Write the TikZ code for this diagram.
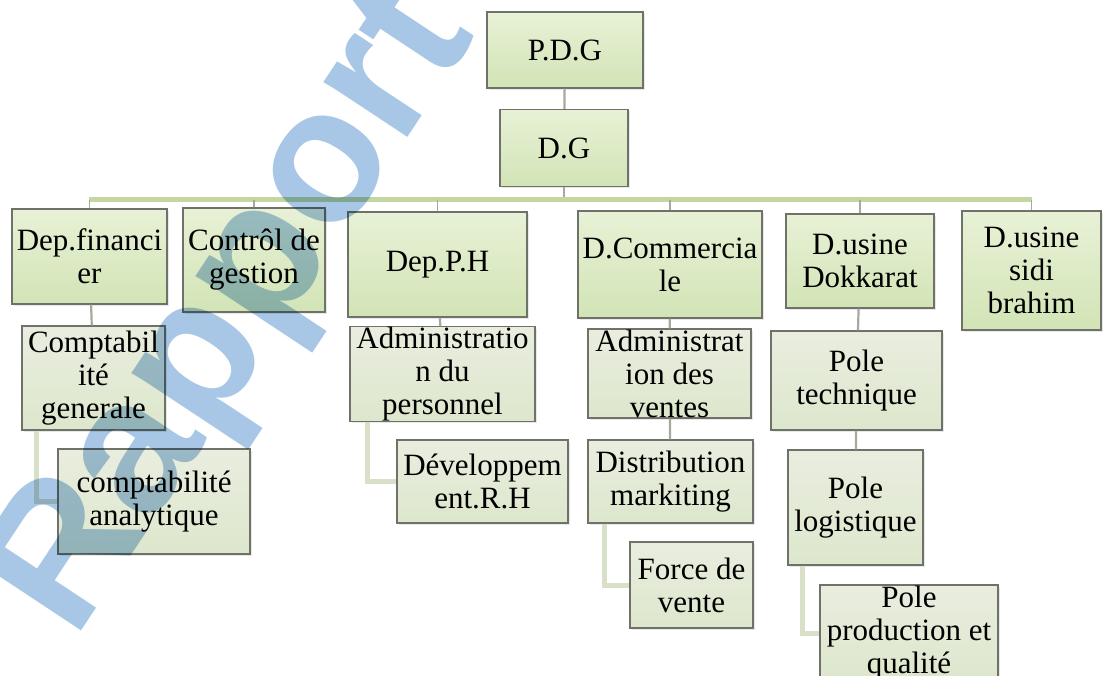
\documentclass[tikz,border=0pt]{standalone}
\usepackage{fontspec}
\setmainfont{Liberation Serif}
\newfontfamily\markfont{Liberation Sans}
\usetikzlibrary{positioning,shadows}

\definecolor{boxtop}{RGB}{232,241,214}
\definecolor{boxbot}{RGB}{210,228,182}
\definecolor{paletop}{RGB}{233,237,223}
\definecolor{palebot}{RGB}{221,231,204}
\definecolor{boxline}{RGB}{110,114,104}
\definecolor{barc}{RGB}{196,215,160}
\definecolor{elbowc}{RGB}{216,224,200}
\definecolor{stemc}{RGB}{165,170,155}
\definecolor{markblue}{RGB}{168,198,230}

\tikzset{
  unit/.style={draw=boxline, line width=1.1pt, top color=boxtop, bottom color=boxbot,
    align=center, inner sep=0pt, font=\fontsize{31}{33}\selectfont,
    drop shadow={opacity=0.18, shadow xshift=2pt, shadow yshift=-2pt}},
  subunit/.style={unit, top color=paletop, bottom color=palebot},
  stem/.style={draw=stemc, line width=2.2pt},
  elbow/.style={draw=elbowc, line width=5pt},
  bar/.style={draw=barc, line width=5pt}
}

\begin{document}
\begin{tikzpicture}[x=1pt,y=-1pt]
\useasboundingbox (0,0) rectangle (1103,676);

% top of the chart
\node[unit, minimum width=156, minimum height=76] (pdg) at (565,50) {P.D.G};
\node[unit, minimum width=128, minimum height=77] (dg) at (564,148) {D.G};

% directions
\node[unit, minimum width=155, minimum height=95] (fin) at (89.5,256.5) {Dep.financi\\er};
\node[unit, minimum width=142, minimum height=104] (ctrl) at (254,260) {Contrôl de\\gestion};
\node[unit, minimum width=179, minimum height=105] (rh) at (437.5,264.5) {Dep.P.H};
\node[unit, minimum width=184, minimum height=107] (com) at (670,264.5) {D.Commercia\\le};
\node[unit, minimum width=148, minimum height=94] (dok) at (860,261) {D.usine\\Dokkarat};
\node[unit, minimum width=139, minimum height=119] (sidi) at (1031.5,270.5) {D.usine\\sidi\\brahim};

% services
\node[subunit, minimum width=143, minimum height=104] (cg) at (93.5,378) {Comptabil\\ité\\generale};
\node[subunit, minimum width=192, minimum height=105] (ca) at (154,501.5) {comptabilité\\analytique};
\node[subunit, minimum width=185, minimum height=92] (ap) at (442.5,374) {Administratio\\n du\\personnel};
\node[subunit, minimum width=171, minimum height=83] (drh) at (482.5,481.5) {Développem\\ent.R.H};
\node[subunit, minimum width=163, minimum height=89] (av) at (669.5,373.5) {Administrat\\ion des\\ventes};
\node[subunit, minimum width=165, minimum height=83] (dm) at (670.5,481.5) {Distribution\\markiting};
\node[subunit, minimum width=123, minimum height=86] (fv) at (691.5,585) {Force de\\vente};
\node[subunit, minimum width=171, minimum height=99] (pt) at (856.5,380.5) {Pole\\technique};
\node[subunit, minimum width=135, minimum height=115] (pl) at (855.5,507.5) {Pole\\logistique};
\node[subunit, minimum width=178, minimum height=96] (pp) at (909,633) {Pole\\production et\\qualité};

% links
\coordinate (busl) at (89,200);
\coordinate (busr) at (1032,200);
\draw[stem] (pdg) -- (dg);
\draw[stem] (dg.south) -- (dg.south |- busl);
\draw[bar] (busl) -- (busr);
\foreach \n in {fin,ctrl,rh,com,dok,sidi}
  \draw[stem, line width=1.2pt] (\n.north |- busl) -- (\n.north);

\draw[stem] (fin) -- (cg);
\draw[stem] (rh) -- (ap);
\draw[stem] (com) -- (av);
\draw[stem] (av) -- (dm);
\draw[stem] (dok) -- (pt);
\draw[stem] (pt) -- (pl);

\draw[elbow] ([xshift=15pt]cg.south west) |- (ca.west);
\draw[elbow] ([xshift=18pt]ap.south west) |- (drh.west);
\draw[elbow] ([xshift=17pt]dm.south west) |- (fv.west);
\draw[elbow] ([xshift=15pt]pl.south west) |- (pp.west);

% stamp over the chart
\begin{scope}[blend mode=multiply]
\node[text=markblue, font=\markfont\bfseries\fontsize{190}{190}\selectfont,
  rotate=56.5, anchor=base west, inner sep=0pt] (stamp) at (74,642) {Rapport};
\end{scope}
\end{tikzpicture}
\end{document}
